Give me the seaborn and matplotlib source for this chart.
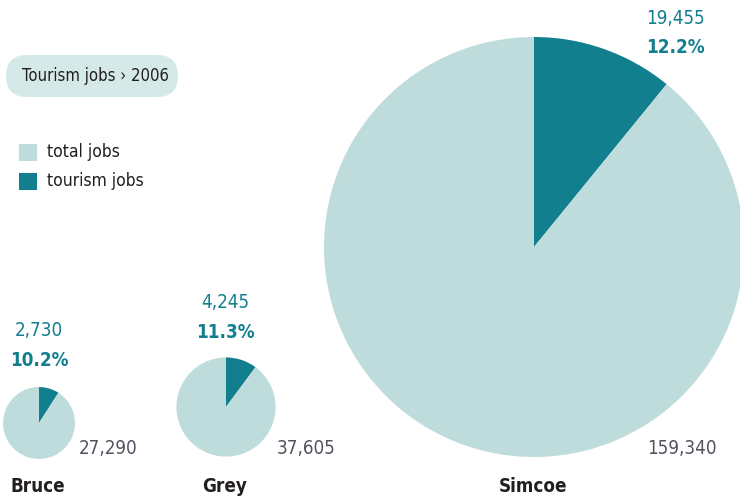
import matplotlib.pyplot as plt
import seaborn as sns
from matplotlib.patches import FancyBboxPatch, Rectangle

# data
regions = ["Bruce", "Grey", "Simcoe"]
total_jobs = [27290, 37605, 159340]
tourism_jobs = [2730, 4245, 19455]
tourism_pct = [10.2, 11.3, 12.2]

LIGHT = "#bfdcdc"
DARK = "#127f8f"
PILL = "#d6e9e9"
GREY_TXT = "#55525f"

sns.set_theme(style="white")
plt.rcParams['font.family'] = ['DejaVu Sans']
plt.rcParams['font.stretch'] = 'condensed'

W, H = 740, 498
fig = plt.figure(figsize=(7.4, 4.98), dpi=100)
ax = fig.add_axes([0, 0, 1, 1])

# pie layout in pixel coordinates (y measured from top); radius ~ total
centers = [(39, 423), (226, 407), (534, 247)]
max_r = 210
radii = [max_r * t / max(total_jobs) for t in total_jobs]

for (cx, cy), r, tj, tot in zip(centers, radii, tourism_jobs, total_jobs):
    ax.pie([tj, tot], colors=[DARK, LIGHT], startangle=90,
           counterclock=False, center=(cx, H - cy), radius=r,
           wedgeprops=dict(linewidth=0), frame=True)

ax.set_xlim(0, W)
ax.set_ylim(0, H)
ax.set_aspect('equal')
ax.axis('off')


def txt(x, y, s, **kw):
    ax.text(x, H - y, s, va='center', **kw)


# labels per pie
top_pos = [(39, 331), (225, 303), (675, 18)]
total_pos = [(79, 449), (277, 449), (647, 449)]
name_pos = [(38, 487), (225, 487), (533, 487)]
for i in range(len(regions)):
    tx, ty = top_pos[i]
    txt(tx, ty, f"{tourism_jobs[i]:,}", ha='center', fontsize=13.5, color=DARK)
    txt(tx, ty + 29, f"{tourism_pct[i]}%", ha='center', fontsize=13.5,
        color=DARK, fontweight='bold')
    px, py = total_pos[i]
    txt(px, py, f"{total_jobs[i]:,}", ha='left', fontsize=13.5, color=GREY_TXT)
    nx, ny = name_pos[i]
    txt(nx, ny, regions[i], ha='center', fontsize=13.5, color='#231f20',
        fontweight='bold')

# title pill
ax.add_patch(FancyBboxPatch((6, H - 97), 172, 42,
                            boxstyle="round,pad=0,rounding_size=21",
                            fc=PILL, ec='none'))
txt(22, 76, "Tourism jobs › 2006", ha='left', fontsize=12, color='#231f20')

# legend
ax.add_patch(Rectangle((19, H - 161), 18, 17, fc=LIGHT, ec='none'))
ax.add_patch(Rectangle((19, H - 190), 18, 17, fc=DARK, ec='none'))
txt(47, 152, "total jobs", ha='left', fontsize=12.5, color='#231f20')
txt(47, 181, "tourism jobs", ha='left', fontsize=12.5, color='#231f20')

fig.savefig("out.png", dpi=100, facecolor='white')
